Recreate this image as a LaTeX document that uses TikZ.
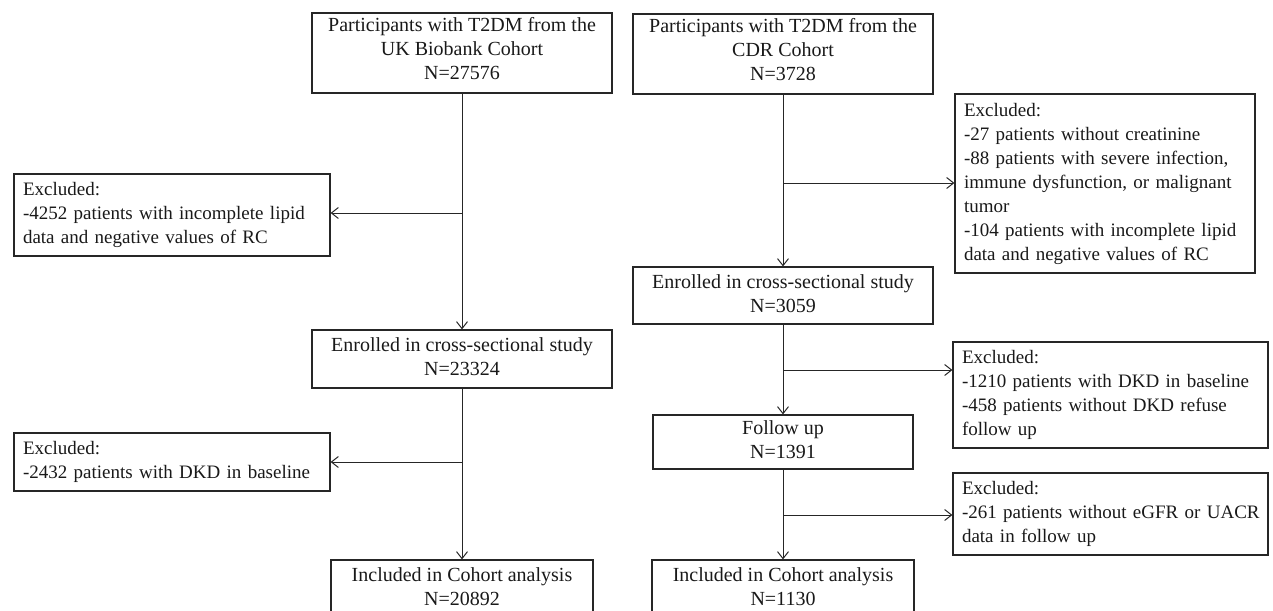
\documentclass[tikz,border=0pt]{standalone}
\usepackage{fontspec}
\setmainfont{Liberation Serif}
\usetikzlibrary{arrows.meta}
\newcommand{\ctrlines}[1]{\begin{tabular}{@{}c@{}}#1\end{tabular}}
\newcommand{\leftlines}[1]{\begin{tabular}{@{}l@{}}#1\end{tabular}}
\begin{document}
\begin{tikzpicture}[x=1pt,y=-1pt,
  box/.style={draw=black!85, line width=1.2pt, inner ysep=0pt, text=black!90,
    font=\fontsize{20}{24}\selectfont},
  midbox/.style={box, align=center, inner xsep=0pt},
  exbox/.style={box, align=left, inner xsep=9pt, font=\fontsize{19}{24}\selectfont},
  conn/.style={draw=black!85, line width=1pt, -{Straight Barb[length=7pt,width=11pt]}}
]
\useasboundingbox (0,0) rectangle (1273,610);
\clip (0,0) rectangle (1273,610);

% left column
\node[midbox, minimum width=300pt, minimum height=80pt, text height=38.5pt, text depth=33.5pt] (uk) at (462,53)
  {\ctrlines{Participants with T2DM from the\\UK Biobank Cohort\\N=27576}};
\node[exbox, text width=298pt, minimum height=82pt] (exl1) at (172,215)
  {\leftlines{Excluded:\\-4252 patients with incomplete lipid\\data and negative values of RC}};
\node[midbox, minimum width=300pt, minimum height=58pt] (enl) at (462,359)
  {\ctrlines{Enrolled in cross-sectional study\\N=23324}};
\node[exbox, text width=298pt, minimum height=58pt] (exl2) at (172,462)
  {\leftlines{Excluded:\\-2432 patients with DKD in baseline}};
\node[midbox, minimum width=262pt, minimum height=58pt] (incl) at (462,589)
  {\ctrlines{Included in Cohort analysis\\N=20892}};

% right column
\node[midbox, minimum width=300pt, minimum height=80pt, text height=38.5pt, text depth=33.5pt] (cdr) at (783,54)
  {\ctrlines{Participants with T2DM from the\\CDR Cohort\\N=3728}};
\node[exbox, text width=282pt, minimum height=179pt] (exr1) at (1105,183.5)
  {\leftlines{Excluded:\\-27 patients without creatinine\\-88 patients with severe infection,\\immune dysfunction, or malignant\\tumor\\-104 patients with incomplete lipid\\data and negative values of RC}};
\node[midbox, minimum width=300pt, minimum height=57pt] (enr) at (783,295.5)
  {\ctrlines{Enrolled in cross-sectional study\\N=3059}};
\node[exbox, text width=297pt, minimum height=106pt] (exr2) at (1110.5,395)
  {\leftlines{Excluded:\\-1210 patients with DKD in baseline\\-458 patients without DKD refuse\\follow up}};
\node[midbox, minimum width=260pt, minimum height=54pt] (fu) at (783,442)
  {\ctrlines{Follow up\\N=1391}};
\node[exbox, text width=297pt, minimum height=82pt] (exr3) at (1110.5,514)
  {\leftlines{Excluded:\\-261 patients without eGFR or UACR\\data in follow up}};
\node[midbox, minimum width=262pt, minimum height=58pt] (incr) at (783,589)
  {\ctrlines{Included in Cohort analysis\\N=1130}};

% main flow
\draw[conn] (uk) -- (enl);
\draw[conn] (enl) -- (incl);
\draw[conn] (cdr) -- (enr);
\draw[conn] (enr) -- (fu);
\draw[conn] (fu) -- (incr);

% branches
\coordinate (b1) at (462,213);
\coordinate (b2) at (462,462);
\coordinate (b3) at (783,183);
\coordinate (b4) at (783,370);
\coordinate (b5) at (783,515);
\draw[conn] (b1) -- (b1 -| exl1.east);
\draw[conn] (b2) -- (b2 -| exl2.east);
\draw[conn] (b3) -- (b3 -| exr1.west);
\draw[conn] (b4) -- (b4 -| exr2.west);
\draw[conn] (b5) -- (b5 -| exr3.west);
\end{tikzpicture}
\end{document}
